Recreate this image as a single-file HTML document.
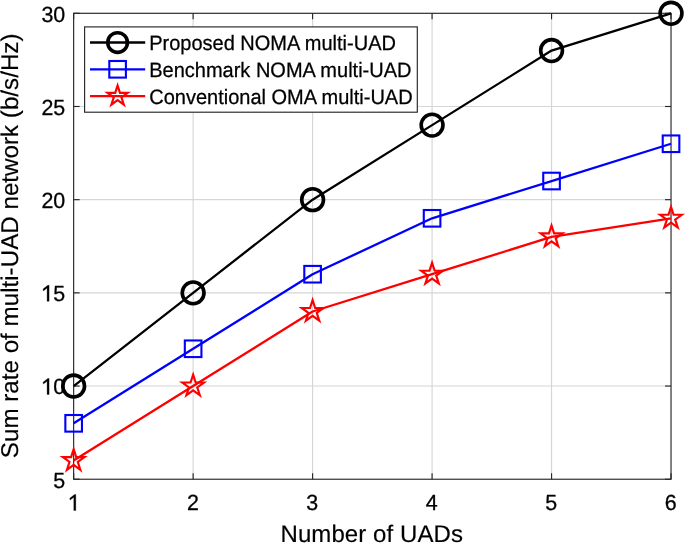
<!DOCTYPE html>
<html><head><meta charset="utf-8"><style>
html,body{margin:0;padding:0;background:#fff;width:685px;height:543px;overflow:hidden}
svg text{font-family:"Liberation Sans", sans-serif;fill:#000;text-rendering:geometricPrecision}
.tk{stroke:#000;stroke-width:0.3px}
.lg{stroke:#000;stroke-width:0.25px}
.tt{stroke:#000;stroke-width:0.15px}
</style></head><body>
<svg width="685" height="543" viewBox="0 0 685 543" style="display:block;will-change:transform">
<rect width="685" height="543" fill="#fff"/>
<line x1="193.13" y1="13.3" x2="193.13" y2="479.23" stroke="#d6d6d6" stroke-width="1.15"/>
<line x1="312.60" y1="13.3" x2="312.60" y2="479.23" stroke="#d6d6d6" stroke-width="1.15"/>
<line x1="432.08" y1="13.3" x2="432.08" y2="479.23" stroke="#d6d6d6" stroke-width="1.15"/>
<line x1="551.55" y1="13.3" x2="551.55" y2="479.23" stroke="#d6d6d6" stroke-width="1.15"/>
<line x1="73.65" y1="386.04" x2="671.03" y2="386.04" stroke="#d6d6d6" stroke-width="1.15"/>
<line x1="73.65" y1="292.86" x2="671.03" y2="292.86" stroke="#d6d6d6" stroke-width="1.15"/>
<line x1="73.65" y1="199.67" x2="671.03" y2="199.67" stroke="#d6d6d6" stroke-width="1.15"/>
<line x1="73.65" y1="106.49" x2="671.03" y2="106.49" stroke="#d6d6d6" stroke-width="1.15"/>
<rect x="73.65" y="13.3" width="597.38" height="465.93" fill="none" stroke="#262626" stroke-width="1.15"/>
<line x1="73.65" y1="479.23" x2="73.65" y2="473.23" stroke="#262626" stroke-width="1.15"/>
<line x1="73.65" y1="13.3" x2="73.65" y2="19.3" stroke="#262626" stroke-width="1.15"/>
<line x1="193.13" y1="479.23" x2="193.13" y2="473.23" stroke="#262626" stroke-width="1.15"/>
<line x1="193.13" y1="13.3" x2="193.13" y2="19.3" stroke="#262626" stroke-width="1.15"/>
<line x1="312.60" y1="479.23" x2="312.60" y2="473.23" stroke="#262626" stroke-width="1.15"/>
<line x1="312.60" y1="13.3" x2="312.60" y2="19.3" stroke="#262626" stroke-width="1.15"/>
<line x1="432.08" y1="479.23" x2="432.08" y2="473.23" stroke="#262626" stroke-width="1.15"/>
<line x1="432.08" y1="13.3" x2="432.08" y2="19.3" stroke="#262626" stroke-width="1.15"/>
<line x1="551.55" y1="479.23" x2="551.55" y2="473.23" stroke="#262626" stroke-width="1.15"/>
<line x1="551.55" y1="13.3" x2="551.55" y2="19.3" stroke="#262626" stroke-width="1.15"/>
<line x1="671.03" y1="479.23" x2="671.03" y2="473.23" stroke="#262626" stroke-width="1.15"/>
<line x1="671.03" y1="13.3" x2="671.03" y2="19.3" stroke="#262626" stroke-width="1.15"/>
<line x1="73.65" y1="479.23" x2="79.65" y2="479.23" stroke="#262626" stroke-width="1.15"/>
<line x1="671.03" y1="479.23" x2="665.03" y2="479.23" stroke="#262626" stroke-width="1.15"/>
<line x1="73.65" y1="386.04" x2="79.65" y2="386.04" stroke="#262626" stroke-width="1.15"/>
<line x1="671.03" y1="386.04" x2="665.03" y2="386.04" stroke="#262626" stroke-width="1.15"/>
<line x1="73.65" y1="292.86" x2="79.65" y2="292.86" stroke="#262626" stroke-width="1.15"/>
<line x1="671.03" y1="292.86" x2="665.03" y2="292.86" stroke="#262626" stroke-width="1.15"/>
<line x1="73.65" y1="199.67" x2="79.65" y2="199.67" stroke="#262626" stroke-width="1.15"/>
<line x1="671.03" y1="199.67" x2="665.03" y2="199.67" stroke="#262626" stroke-width="1.15"/>
<line x1="73.65" y1="106.49" x2="79.65" y2="106.49" stroke="#262626" stroke-width="1.15"/>
<line x1="671.03" y1="106.49" x2="665.03" y2="106.49" stroke="#262626" stroke-width="1.15"/>
<line x1="73.65" y1="13.30" x2="79.65" y2="13.30" stroke="#262626" stroke-width="1.15"/>
<line x1="671.03" y1="13.30" x2="665.03" y2="13.30" stroke="#262626" stroke-width="1.15"/>
<path transform="translate(73.65,510.50)" d="M0.15,0 L2.15,0 L2.15,-16 L0.9,-16 L-3.9,-12.3 L-3.6,-10.4 L0.15,-13.2 Z" fill="#000" stroke="#000" stroke-width="0.3"/>
<text transform="translate(192.83,510.40) scale(0.987,1.01)" font-size="21.7" text-anchor="middle" class="tk">2</text>
<text transform="translate(312.30,510.40) scale(0.987,1.01)" font-size="21.7" text-anchor="middle" class="tk">3</text>
<text transform="translate(431.78,510.40) scale(0.987,1.01)" font-size="21.7" text-anchor="middle" class="tk">4</text>
<text transform="translate(551.25,510.40) scale(0.987,1.01)" font-size="21.7" text-anchor="middle" class="tk">5</text>
<text transform="translate(670.73,510.40) scale(0.987,1.01)" font-size="21.7" text-anchor="middle" class="tk">6</text>
<text transform="translate(65.20,487.68) scale(0.987,1.01)" font-size="21.7" text-anchor="end" class="tk">5</text>
<path transform="translate(46.94,394.49)" d="M0.15,0 L2.15,0 L2.15,-16 L0.9,-16 L-3.9,-12.3 L-3.6,-10.4 L0.15,-13.2 Z" fill="#000" stroke="#000" stroke-width="0.3"/>
<text transform="translate(65.20,394.49) scale(0.987,1.01)" font-size="21.7" text-anchor="end" class="tk">0</text>
<path transform="translate(46.94,301.31)" d="M0.15,0 L2.15,0 L2.15,-16 L0.9,-16 L-3.9,-12.3 L-3.6,-10.4 L0.15,-13.2 Z" fill="#000" stroke="#000" stroke-width="0.3"/>
<text transform="translate(65.20,301.31) scale(0.987,1.01)" font-size="21.7" text-anchor="end" class="tk">5</text>
<text transform="translate(65.20,208.12) scale(0.987,1.01)" font-size="21.7" text-anchor="end" class="tk">20</text>
<text transform="translate(65.20,114.94) scale(0.987,1.01)" font-size="21.7" text-anchor="end" class="tk">25</text>
<text transform="translate(65.20,21.75) scale(0.987,1.01)" font-size="21.7" text-anchor="end" class="tk">30</text>
<text x="280.5" y="542" font-size="24" class="tt" letter-spacing="0.08">Number of UADs</text>
<text transform="translate(18.3,458.2) rotate(-90)" x="0" y="0" font-size="24.2" class="tt">Sum rate of multi-UAD network (b/s/Hz)</text>
<polyline points="73.65,386.04 193.13,292.86 312.60,199.67 432.08,125.12 551.55,50.57 671.03,13.30" fill="none" stroke="#000" stroke-width="2.3" stroke-linejoin="round"/>
<circle cx="73.65" cy="386.04" r="10.9" fill="none" stroke="#000" stroke-width="3.6"/>
<circle cx="193.13" cy="292.86" r="10.9" fill="none" stroke="#000" stroke-width="3.6"/>
<circle cx="312.60" cy="199.67" r="10.9" fill="none" stroke="#000" stroke-width="3.6"/>
<circle cx="432.08" cy="125.12" r="10.9" fill="none" stroke="#000" stroke-width="3.6"/>
<circle cx="551.55" cy="50.57" r="10.9" fill="none" stroke="#000" stroke-width="3.6"/>
<circle cx="671.03" cy="13.30" r="10.9" fill="none" stroke="#000" stroke-width="3.6"/>
<polyline points="73.65,423.32 193.13,348.77 312.60,274.22 432.08,218.31 551.55,181.03 671.03,143.76" fill="none" stroke="#00f" stroke-width="2.3" stroke-linejoin="round"/>
<rect x="65.35" y="415.02" width="16.6" height="16.6" fill="none" stroke="#00f" stroke-width="2.1"/>
<rect x="184.83" y="340.47" width="16.6" height="16.6" fill="none" stroke="#00f" stroke-width="2.1"/>
<rect x="304.30" y="265.92" width="16.6" height="16.6" fill="none" stroke="#00f" stroke-width="2.1"/>
<rect x="423.78" y="210.01" width="16.6" height="16.6" fill="none" stroke="#00f" stroke-width="2.1"/>
<rect x="543.25" y="172.73" width="16.6" height="16.6" fill="none" stroke="#00f" stroke-width="2.1"/>
<rect x="662.73" y="135.46" width="16.6" height="16.6" fill="none" stroke="#00f" stroke-width="2.1"/>
<polyline points="73.65,460.59 193.13,386.04 312.60,311.50 432.08,274.22 551.55,236.95 671.03,218.31" fill="none" stroke="#f00" stroke-width="2.3" stroke-linejoin="round"/>
<polygon points="73.65,449.19 76.21,457.07 84.49,457.07 77.79,461.94 80.35,469.82 73.65,464.95 66.95,469.82 69.51,461.94 62.81,457.07 71.09,457.07" fill="none" stroke="#f00" stroke-width="2.15" stroke-linejoin="miter" stroke-miterlimit="10"/>
<polygon points="193.13,374.64 195.69,382.52 203.97,382.52 197.27,387.39 199.83,395.27 193.13,390.40 186.43,395.27 188.98,387.39 182.28,382.52 190.57,382.52" fill="none" stroke="#f00" stroke-width="2.15" stroke-linejoin="miter" stroke-miterlimit="10"/>
<polygon points="312.60,300.10 315.16,307.97 323.44,307.97 316.74,312.84 319.30,320.72 312.60,315.85 305.90,320.72 308.46,312.84 301.76,307.97 310.04,307.97" fill="none" stroke="#f00" stroke-width="2.15" stroke-linejoin="miter" stroke-miterlimit="10"/>
<polygon points="432.08,262.82 434.64,270.70 442.92,270.70 436.22,275.57 438.78,283.44 432.08,278.58 425.38,283.44 427.94,275.57 421.24,270.70 429.52,270.70" fill="none" stroke="#f00" stroke-width="2.15" stroke-linejoin="miter" stroke-miterlimit="10"/>
<polygon points="551.55,225.55 554.11,233.42 562.40,233.42 555.70,238.29 558.25,246.17 551.55,241.30 544.85,246.17 547.41,238.29 540.71,233.42 548.99,233.42" fill="none" stroke="#f00" stroke-width="2.15" stroke-linejoin="miter" stroke-miterlimit="10"/>
<polygon points="671.03,206.91 673.59,214.79 681.87,214.79 675.17,219.65 677.73,227.53 671.03,222.66 664.33,227.53 666.89,219.65 660.19,214.79 668.47,214.79" fill="none" stroke="#f00" stroke-width="2.15" stroke-linejoin="miter" stroke-miterlimit="10"/>
<rect x="84.6" y="26.9" width="332.70" height="85.30" fill="#fff" stroke="#262626" stroke-width="1.15"/>
<line x1="90" y1="42.5" x2="145.2" y2="42.5" stroke="#000" stroke-width="2.3"/>
<circle cx="117.60" cy="42.50" r="9.85" fill="none" stroke="#000" stroke-width="3.55"/>
<text transform="translate(149.20,50.30) scale(1.0,1.04)" font-size="20" class="lg">Proposed NOMA multi-UAD</text>
<line x1="90" y1="69.3" x2="145.2" y2="69.3" stroke="#00f" stroke-width="2.3"/>
<rect x="109.30" y="61.00" width="16.6" height="16.6" fill="none" stroke="#00f" stroke-width="2.1"/>
<text transform="translate(149.20,77.10) scale(1.0,1.04)" font-size="20" class="lg">Benchmark NOMA multi-UAD</text>
<line x1="90" y1="96.1" x2="145.2" y2="96.1" stroke="#f00" stroke-width="2.3"/>
<polygon points="117.60,85.50 119.98,92.82 127.68,92.82 121.45,97.35 123.83,104.68 117.60,100.15 111.37,104.68 113.75,97.35 107.52,92.82 115.22,92.82" fill="none" stroke="#f00" stroke-width="2.15" stroke-linejoin="miter" stroke-miterlimit="10"/>
<text transform="translate(149.20,103.90) scale(1.0,1.04)" font-size="20" class="lg">Conventional OMA multi-UAD</text>
</svg>
</body></html>
